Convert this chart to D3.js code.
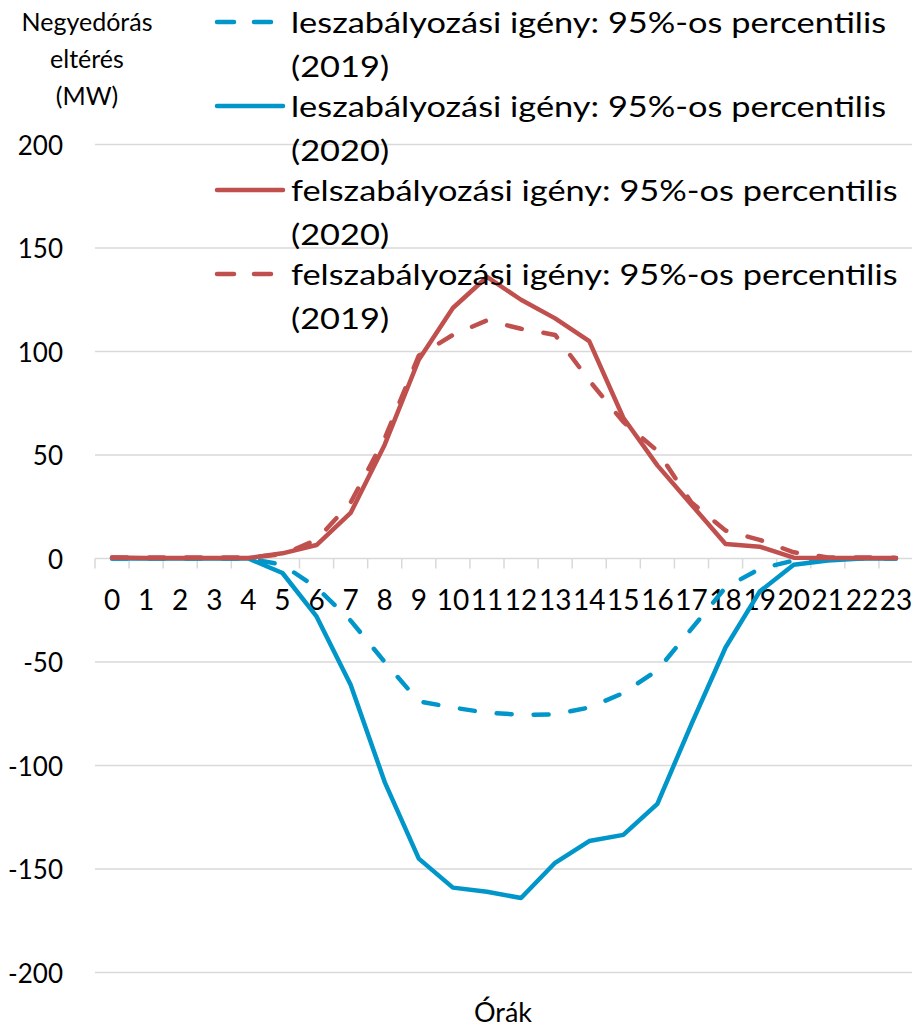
<!DOCTYPE html>
<html>
<head>
<meta charset="utf-8">
<script src="https://cdn.jsdelivr.net/npm/d3@7"></script>
<style>
  body { margin: 0; background: #fff; }
  text { font-family: Lato, "Open Sans", sans-serif; fill: #000; }
</style>
</head>
<body>
<svg id="chart"></svg>
<script>
// DATA
/***********************/
var hours = [0, 1, 2, 3, 4, 5, 6, 7, 8, 9, 10, 11, 12, 13, 14, 15, 16, 17, 18, 19, 20, 21, 22, 23];
var yTicks = [-200, -150, -100, -50, 0, 50, 100, 150, 200];

var le2019 = [0, 0, 0, 0, 0, -3, -14, -30, -50, -69, -72, -74.5, -75.5, -75.3, -72, -65, -54, -34, -14, -5, -1, 0, 0, 0];
var le2020 = [0, 0, 0, 0, 0, -7, -28, -61, -108, -145, -159, -161, -164, -147, -136.5, -133.5, -118.5, -80, -43, -16, -3, -1, 0, 0];
var fel2020 = [0.5, 0.3, 0.2, 0.2, 0.2, 2.5, 6.5, 22, 55, 96, 121, 136, 125, 116, 105, 68, 45, 26, 7, 5.7, 0.4, 0.3, 0.3, 0.2];
var fel2019 = [0.5, 0.5, 0.5, 0.5, 0.5, 2, 9, 27, 58, 98, 108, 115, 111, 108, 86, 66, 52, 27, 13.5, 9, 3, 0.5, 0.5, 0.3];

var seriesNames = [
  ["leszabályozási igény: 95%-os percentilis", "(2019)"],
  ["leszabályozási igény: 95%-os percentilis", "(2020)"],
  ["felszabályozási igény: 95%-os percentilis", "(2020)"],
  ["felszabályozási igény: 95%-os percentilis", "(2019)"]
];

var BLUE = "#0096c9",
    RED = "#c0504d";

var series = [
  { name: seriesNames[0], values: le2019, color: BLUE, dashed: true },
  { name: seriesNames[1], values: le2020, color: BLUE, dashed: false },
  { name: seriesNames[2], values: fel2020, color: RED, dashed: false },
  { name: seriesNames[3], values: fel2019, color: RED, dashed: true }
];

// LAYOUT
/***********************/
var WIDTH = 912,
    HEIGHT = 1030;
var PLOT_LEFT = 95,
    PLOT_RIGHT = 913,
    PLOT_TOP = 144.5,
    PLOT_BOTTOM = 972.5;
var DASH = "15,22";
var LEGEND_STRETCH = 1.185; // the source font runs wider than Lato

var svg = d3.select("#chart")
    .attr("width", WIDTH)
    .attr("height", HEIGHT);

var x = d3.scaleBand()
    .domain(hours)
    .range([PLOT_LEFT, PLOT_RIGHT]);

var y = d3.scaleLinear()
    .domain([-200, 200])
    .range([PLOT_BOTTOM, PLOT_TOP]);

function cx(h) { return x(h) + x.bandwidth() / 2; }

// GRID
svg.append("g")
    .attr("class", "grid")
  .selectAll("line")
    .data(yTicks)
  .enter().append("line")
    .attr("x1", PLOT_LEFT)
    .attr("x2", PLOT_RIGHT)
    .attr("y1", function(d) { return y(d); })
    .attr("y2", function(d) { return y(d); })
    .style("stroke", "#d9d9d9")
    .style("stroke-width", 1.5);

// y tick labels
svg.append("g")
  .selectAll("text")
    .data(yTicks)
  .enter().append("text")
    .attr("x", 63)
    .attr("y", function(d) { return y(d); })
    .attr("dy", "0.4em")
    .attr("text-anchor", "end")
    .style("font-size", "26px")
    .text(function(d) { return d; });

// x axis at zero: small ticks between categories, labels under
var xAxis = d3.axisBottom(x)
    .tickSize(0)
    .tickPadding(0)
    .tickFormat(function(d) { return d; });

var gx = svg.append("g")
    .attr("transform", "translate(0," + y(0) + ")")
    .call(xAxis);
gx.select(".domain").remove();
gx.selectAll("text")
    .attr("y", 51)
    .attr("dy", 0)
    .style("font-size", "28px")
    .style("font-family", "Lato, 'Open Sans', sans-serif");

svg.append("g")
  .selectAll("line")
    .data(hours)
  .enter().append("line")
    .attr("x1", function(d) { return x(d); })
    .attr("x2", function(d) { return x(d); })
    .attr("y1", y(0))
    .attr("y2", y(0) + 10)
    .style("stroke", "#d9d9d9")
    .style("stroke-width", 1.5);

// LINES
/***********************/
var line = d3.line()
    .x(function(d, i) { return cx(hours[i]); })
    .y(function(d) { return y(d); });

svg.append("g")
  .selectAll("path")
    .data(series)
  .enter().append("path")
    .attr("d", function(d) { return line(d.values); })
    .style("fill", "none")
    .style("stroke", function(d) { return d.color; })
    .style("stroke-width", 4.5)
    .style("stroke-linejoin", "round")
    .style("stroke-linecap", "round")
    .style("stroke-dasharray", function(d) { return d.dashed ? DASH : null; });

// TITLES
/***********************/
var yTitle = svg.append("text")
    .attr("text-anchor", "middle")
    .style("font-size", "25px");
["Negyedórás", "eltérés", "(MW)"].forEach(function(t, i) {
  yTitle.append("tspan")
      .attr("x", 87)
      .attr("y", 31 + i * 37)
      .text(t);
});

svg.append("text")
    .attr("x", 503)
    .attr("y", 1022)
    .attr("text-anchor", "middle")
    .style("font-size", "27px")
    .text("Órák");

// LEGEND
/***********************/
var legend = svg.append("g")
  .selectAll("g")
    .data(series)
  .enter().append("g")
    .attr("transform", function(d, i) { return "translate(0," + (i * 84) + ")"; });

legend.append("line")
    .attr("x1", 217)
    .attr("x2", 283)
    .attr("y1", 22)
    .attr("y2", 22)
    .style("stroke", function(d) { return d.color; })
    .style("stroke-width", 4.5)
    .style("stroke-linecap", "round")
    .style("stroke-dasharray", function(d) { return d.dashed ? "17,20" : null; });

legend.append("text")
    .attr("x", 291)
    .attr("y", 33)
    .style("font-size", "29px")
    .text(function(d) { return d.name[0]; });

legend.append("text")
    .attr("x", 291)
    .attr("y", 77)
    .style("font-size", "29px")
    .text(function(d) { return d.name[1]; });

// widen legend texts to the source's run length
legend.selectAll("text").each(function() {
  var len = this.getComputedTextLength();
  d3.select(this)
      .attr("textLength", len * LEGEND_STRETCH)
      .attr("lengthAdjust", "spacingAndGlyphs");
});
</script>
</body>
</html>
